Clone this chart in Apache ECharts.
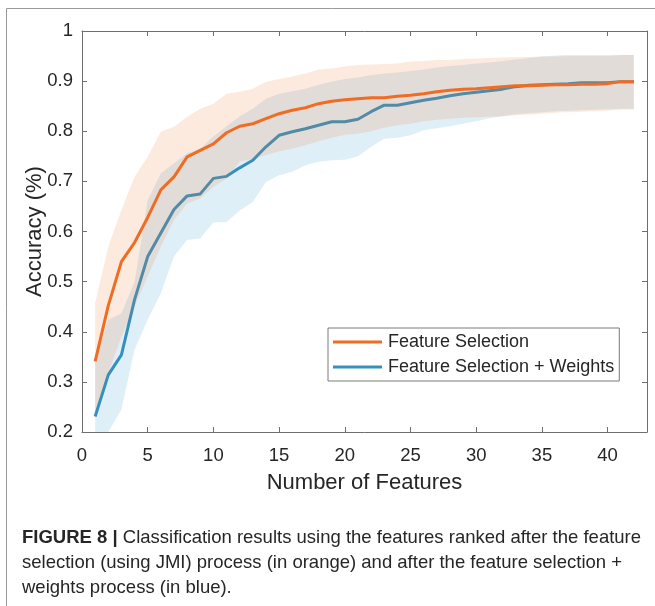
<!DOCTYPE html>
<html>
<head>
<meta charset="utf-8">
<script src="https://cdn.jsdelivr.net/npm/echarts@6/dist/echarts.min.js"></script>
<style>
  html, body { margin: 0; padding: 0; background: #fff; }
  #chart { width: 655px; height: 606px; }
</style>
</head>
<body>
<div id="chart"></div>
<script>
// number of features (x)
const features = [1, 2, 3, 4, 5, 6, 7, 8, 9, 10, 11, 12, 13, 14, 15, 16, 17, 18, 19, 20, 21,
  22, 23, 24, 25, 26, 27, 28, 29, 30, 31, 32, 33, 34, 35, 36, 37, 38, 39, 40, 41, 42];

// Feature Selection (orange)
const fsMean = [0.341, 0.452, 0.540, 0.578, 0.628, 0.683, 0.709, 0.749, 0.762, 0.775, 0.797, 0.810,
  0.815, 0.825, 0.835, 0.842, 0.847, 0.855, 0.860, 0.863, 0.865, 0.867, 0.867, 0.870, 0.872, 0.875,
  0.879, 0.882, 0.884, 0.885, 0.887, 0.889, 0.891, 0.891, 0.892, 0.893, 0.893, 0.894, 0.894, 0.895,
  0.899, 0.899];
const fsUpper = [0.457, 0.570, 0.643, 0.709, 0.749, 0.799, 0.809, 0.829, 0.845, 0.855, 0.875, 0.879,
  0.885, 0.899, 0.904, 0.909, 0.915, 0.923, 0.925, 0.929, 0.932, 0.933, 0.934, 0.935, 0.939, 0.940,
  0.942, 0.942, 0.944, 0.945, 0.946, 0.947, 0.948, 0.948, 0.949, 0.949, 0.950, 0.950, 0.950, 0.951,
  0.952, 0.952];
const fsLower = [0.237, 0.318, 0.390, 0.450, 0.510, 0.570, 0.623, 0.656, 0.666, 0.689, 0.705, 0.739,
  0.745, 0.752, 0.760, 0.765, 0.772, 0.780, 0.787, 0.793, 0.795, 0.800, 0.807, 0.812, 0.815, 0.820,
  0.823, 0.825, 0.827, 0.828, 0.829, 0.830, 0.832, 0.833, 0.835, 0.837, 0.838, 0.839, 0.840, 0.841,
  0.843, 0.843];

// Feature Selection + Weights (blue)
const fswMean = [0.231, 0.314, 0.354, 0.464, 0.550, 0.597, 0.644, 0.671, 0.675, 0.706, 0.710, 0.727,
  0.742, 0.769, 0.792, 0.799, 0.805, 0.812, 0.819, 0.819, 0.824, 0.839, 0.852, 0.852, 0.857, 0.862,
  0.866, 0.871, 0.875, 0.878, 0.881, 0.884, 0.889, 0.892, 0.893, 0.894, 0.895, 0.897, 0.897, 0.897,
  0.899, 0.899];
const fswUpper = [0.344, 0.424, 0.437, 0.500, 0.663, 0.716, 0.736, 0.756, 0.765, 0.790, 0.810, 0.830,
  0.845, 0.865, 0.875, 0.880, 0.885, 0.893, 0.899, 0.904, 0.907, 0.912, 0.915, 0.917, 0.920, 0.923,
  0.927, 0.930, 0.932, 0.935, 0.937, 0.940, 0.943, 0.946, 0.949, 0.951, 0.952, 0.952, 0.952, 0.951,
  0.952, 0.952];
const fswLower = [0.170, 0.200, 0.245, 0.364, 0.424, 0.477, 0.550, 0.583, 0.586, 0.618, 0.619, 0.642,
  0.659, 0.699, 0.712, 0.719, 0.732, 0.739, 0.742, 0.743, 0.750, 0.769, 0.785, 0.787, 0.792, 0.802,
  0.806, 0.810, 0.815, 0.820, 0.826, 0.830, 0.834, 0.836, 0.838, 0.840, 0.841, 0.842, 0.843, 0.844,
  0.845, 0.845];

const seriesNames = ["Feature Selection", "Feature Selection + Weights"];
const xTitle = "Number of Features";
const yTitle = "Accuracy (%)";
const captionBold = "FIGURE 8 |";
const captionText = [
  " Classification results using the features ranked after the feature",
  "selection (using JMI) process (in orange) and after the feature selection +",
  "weights process (in blue)."
];

const FONT = "Liberation Sans, Arial, sans-serif";
const ORANGE = "#ef6c22";
const BLUE = "#3590bd";
const AXIS = "#6e6e6e";
const TEXT = "#262626";

function pairs(ys) {
  return features.map((x, i) => [x, ys[i]]);
}

// shaded band drawn as one polygon through the axis scales
function band(name, upper, lower, fill, z) {
  return {
    type: "custom",
    name: name,
    z: z,
    silent: true,
    clip: true,
    data: features.map((x, i) => [x, lower[i], upper[i]]),
    encode: { x: 0, y: [1, 2] },
    renderItem: function (params, api) {
      if (params.dataIndex !== 0) return null;
      const pts = [];
      for (let i = 0; i < features.length; i++) pts.push(api.coord([features[i], upper[i]]));
      for (let i = features.length - 1; i >= 0; i--) pts.push(api.coord([features[i], lower[i]]));
      const cs = params.coordSys;
      return {
        type: "polygon",
        shape: { points: pts },
        style: { fill: fill },
        clipPath: { type: "rect", shape: { x: cs.x, y: cs.y, width: cs.width, height: cs.height } }
      };
    }
  };
}

var myChart = echarts.init(document.getElementById("chart"));

var axisCommon = {
  axisLine: { show: true, onZero: false, lineStyle: { color: AXIS, width: 1 } },
  axisTick: { show: true, inside: true, length: 5, lineStyle: { color: AXIS } },
  splitLine: { show: false }
};

var option = {
  animation: false,
  backgroundColor: "#fff",
  grid: { left: 82, top: 31, width: 565, height: 401 },
  legend: {
    data: seriesNames,
    orient: "vertical",
    left: 328,
    top: 328,
    icon: "rect",
    itemWidth: 49,
    itemHeight: 3,
    itemGap: 7,
    padding: [5, 5, 5, 5],
    borderColor: "#7a7a7a",
    borderWidth: 1,
    backgroundColor: "#fff",
    textStyle: { fontSize: 18, color: TEXT, fontFamily: FONT, padding: [0, 0, 0, 1] }
  },
  xAxis: [
    Object.assign({}, axisCommon, {
      type: "value", min: 0, max: 43, interval: 5, position: "bottom",
      axisLabel: { fontSize: 18.5, color: TEXT, fontFamily: FONT, margin: 14, showMaxLabel: false },
      name: xTitle, nameLocation: "middle", nameGap: 40, nameMoveOverlap: false,
      nameTextStyle: { fontSize: 22, color: TEXT, fontFamily: FONT }
    }),
    Object.assign({}, axisCommon, {
      type: "value", min: 0, max: 43, interval: 5, position: "top",
      axisLabel: { show: false }
    })
  ],
  yAxis: [
    Object.assign({}, axisCommon, {
      type: "value", min: 0.2, max: 1, interval: 0.1, position: "left",
      axisLabel: { fontSize: 18.5, color: TEXT, fontFamily: FONT, margin: 9 },
      name: yTitle, nameLocation: "middle", nameGap: 36, nameMoveOverlap: false,
      nameTextStyle: { fontSize: 22, color: TEXT, fontFamily: FONT }
    }),
    Object.assign({}, axisCommon, {
      type: "value", min: 0.2, max: 1, interval: 0.1, position: "right",
      axisLabel: { show: false }
    })
  ],
  series: [
    band("fswBand", fswUpper, fswLower, "rgba(42,148,202,0.15)", 1),
    {
      name: seriesNames[1], type: "line", z: 2, data: pairs(fswMean),
      symbol: "none", clip: true, color: BLUE,
      lineStyle: { color: BLUE, width: 3 }
    },
    band("fsBand", fsUpper, fsLower, "rgba(240,112,40,0.15)", 3),
    {
      name: seriesNames[0], type: "line", z: 4, data: pairs(fsMean),
      symbol: "none", clip: true, color: ORANGE,
      lineStyle: { color: ORANGE, width: 3 }
    }
  ],
  graphic: [
    {
      type: "rect", silent: true, z: -10,
      shape: { x: 6.5, y: 8.5, width: 700, height: 700 },
      style: { fill: null, stroke: "#9a9a9a", lineWidth: 1 }
    },
    {
      type: "text", left: 22, top: 525, silent: true,
      style: {
        text: "{b|" + captionBold + "}" + captionText.join("\n"),
        font: "18.5px " + FONT,
        fill: TEXT,
        lineHeight: 25,
        rich: { b: { fontWeight: "bold", fontSize: 18.5, fontFamily: FONT, fill: TEXT, lineHeight: 25 } }
      }
    }
  ]
};

option && myChart.setOption(option);
</script>
</body>
</html>
